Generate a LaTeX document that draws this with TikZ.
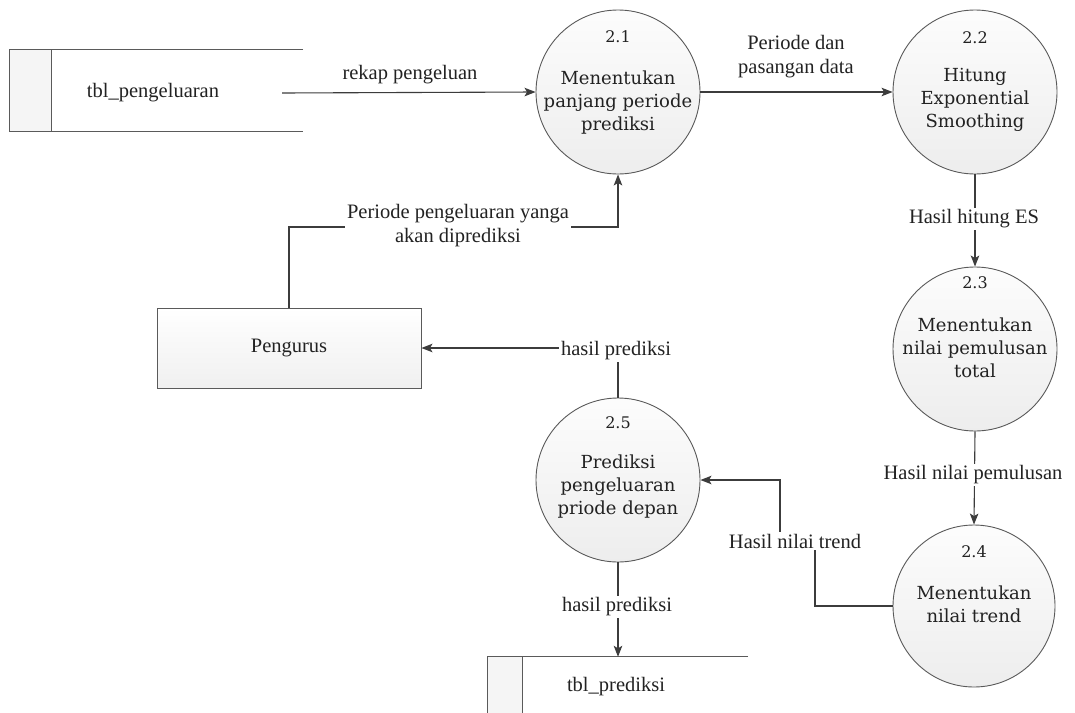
\documentclass[tikz,border=0pt]{standalone}
\usepackage{fontspec}
\setmainfont{Liberation Serif}
\newfontfamily\procfont{DejaVu Serif}
\usetikzlibrary{arrows.meta,calc}
\definecolor{ink}{HTML}{222222}
\definecolor{wire}{HTML}{3C3C3C}
\definecolor{edge}{HTML}{5A5A5A}
\tikzset{
  proc/.style={circle, draw=edge, line width=0.9pt, minimum size=164pt, inner sep=0pt,
    top color=gray!2, bottom color=gray!14},
  pnum/.style={font=\procfont\fontsize{16}{18}\selectfont, text=ink},
  ptext/.style={font=\procfont\fontsize{18}{23}\selectfont, text=ink, align=center},
  flow/.style={draw=wire, line width=1.1pt, -{Stealth[length=11pt,width=8.5pt,inset=2.5pt]}},
  flowlabel/.style={font=\fontsize{20.5}{24}\selectfont, text=ink, fill=white, inner sep=2pt, align=center},
  entity/.style={rectangle, draw=edge, line width=0.9pt, top color=white, bottom color=gray!12,
    minimum width=264pt, minimum height=80pt, font=\fontsize{20.5}{24}\selectfont, text=ink},
  storebox/.style={rectangle, inner sep=0pt},
  storeline/.style={draw=edge, line width=0.9pt},
  storetext/.style={font=\fontsize{20.5}{24}\selectfont, text=ink},
}
\begin{document}
\begin{tikzpicture}[x=1pt,y=-1pt]
  \clip (0,0) rectangle (1075,712);
  \fill[white] (0,0) rectangle (1075,712);

  % data store: tbl_pengeluaran
  \node[storebox, minimum width=293pt, minimum height=81pt] (tbl1) at (156.5,90.5) {};
  \fill[gray!8] (tbl1.north west) rectangle ($(tbl1.south west)+(42,0)$);
  \draw[storeline] (tbl1.north east) -- (tbl1.north west) -- (tbl1.south west) -- (tbl1.south east);
  \draw[storeline] ($(tbl1.north west)+(42,0)$) -- ($(tbl1.south west)+(42,0)$);
  \node[storetext] (tbl1txt) at (153,93) {tbl\_pengeluaran};

  % data store: tbl_prediksi
  \node[storebox, minimum width=260pt, minimum height=60pt] (tbl2) at (618,687) {};
  \fill[gray!8] (tbl2.north west) rectangle ($(tbl2.south west)+(35,0)$);
  \draw[storeline] (tbl2.north east) -- (tbl2.north west) -- (tbl2.south west) -- (tbl2.south east);
  \draw[storeline] ($(tbl2.north west)+(35,0)$) -- ($(tbl2.south west)+(35,0)$);
  \node[storetext] (tbl2txt) at (616,687) {tbl\_prediksi};

  % external entity
  \node[entity] (peng) at (289,348) {Pengurus};

  % processes
  \node[proc] (p21) at (618,92) {};
  \node[pnum] (p21n) at (618,37) {2.1};
  \node[ptext] (p21t) at (618,103) {Menentukan\\panjang periode\\prediksi};

  \node[proc] (p22) at (975,92) {};
  \node[pnum] (p22n) at (975,38) {2.2};
  \node[ptext] (p22t) at (975,100) {Hitung\\Exponential\\Smoothing};

  \node[proc] (p23) at (975,349) {};
  \node[pnum] (p23n) at (975,283) {2.3};
  \node[ptext] (p23t) at (975,348) {Menentukan\\nilai pemulusan\\total};

  \node[proc, minimum size=162pt] (p24) at (974,606) {};
  \node[pnum] (p24n) at (974,552) {2.4};
  \node[ptext] (p24t) at (974,604) {Menentukan\\nilai trend};

  \node[proc] (p25) at (618,480) {};
  \node[pnum] (p25n) at (618,423) {2.5};
  \node[ptext] (p25t) at (618,487) {Prediksi\\pengeluaran\\priode depan};

  % data flows
  \coordinate (rk) at (282,93);
  \draw[flow] (rk) -- (p21.west);
  \draw[flow] (peng.north) |- (458,227) -| (p21.south);
  \draw[flow] (p21.east) -- (p22.west);
  \draw[flow] (p22.south) -- (p23.north);
  \draw[flow] (p23.south) -- (p24.north);
  \coordinate (tr1) at (815,541);
  \coordinate (tr2) at (780,541);
  \draw[flow] (p24.west) -| (tr1) -- (tr2) |- (p25.east);
  \draw[flow] (p25.north) |- (peng.east);
  \draw[flow] (p25.south) -- (tbl2.north);

  % flow labels
  \node[flowlabel, fill=none] (l1) at (410,75) {rekap pengeluan};
  \node[flowlabel] (l2) at (458,226) {Periode pengeluaran yanga\\akan diprediksi};
  \node[flowlabel, fill=none] (l3) at (796,57) {Periode dan\\pasangan data};
  \node[flowlabel] (l4) at (974,219) {Hasil hitung ES};
  \node[flowlabel] (l5) at (973,475) {Hasil nilai pemulusan};
  \node[flowlabel] (l6) at (795,541) {Hasil nilai trend};
  \node[flowlabel] (l7) at (616,351) {hasil prediksi};
  \node[flowlabel] (l8) at (617,607) {hasil prediksi};
\end{tikzpicture}
\end{document}
